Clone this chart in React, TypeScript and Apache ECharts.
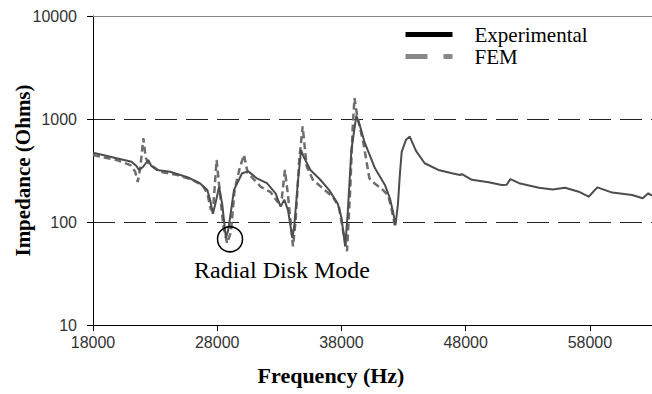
import React, { useEffect, useRef } from "react";
import * as echarts from "echarts";

const expFreq = [
  18000, 18800, 19900, 21100, 21500, 21700, 22000, 22450, 22700, 23150, 24200, 25600, 26600, 27200,
  27450, 27650, 27850, 28150, 28400, 28700, 28900, 29350, 30000, 30500, 31200, 32000, 32700, 33100,
  33400, 33700, 34050, 34200, 34500, 34750, 35000, 35500, 36300, 37000, 37700, 38000, 38300, 38500,
  38800, 39200, 39500, 39850, 40700, 41500, 41900, 42150, 42350, 42550, 42700, 42850, 43200, 43500,
  44000, 44700, 45800, 46900, 47550, 47700, 48500, 49850, 50900, 51300, 51600, 52300, 53900, 55000,
  56000, 57100, 57900, 58600, 59800, 61400, 62250, 62700, 63000,
];
const expImp = [
  470, 447, 415, 385, 350, 320, 340, 400, 350, 320, 308, 272, 238, 205,
  160, 120, 150, 220, 150, 70, 85, 205, 297, 310, 265, 238, 190, 141,
  165, 130, 70, 90, 250, 500, 420, 320, 257, 205, 151, 110, 58, 120,
  500, 1080, 850, 600, 332, 229, 170, 126, 93, 150, 286, 480, 630, 675,
  490, 372, 320, 297, 286, 292, 257, 243, 229, 230, 261, 238, 215, 207,
  215, 197, 176, 217, 193, 183, 170, 190, 180,
];

const femFreq = [
  18000, 19000, 19900, 21000, 21400, 21600, 21800, 22050, 22250, 22450, 23400, 24800, 25900, 26800,
  27200, 27500, 27700, 27950, 28200, 28500, 28800, 29100, 29400, 29800, 30150, 30450, 31500, 32300,
  32900, 33200, 33450, 33700, 34100, 34300, 34600, 34880, 35200, 35700, 36500, 37300, 37800, 38150,
  38450, 38700, 38900, 39050, 39250, 39750, 40250, 40700, 41200, 41750, 42000, 42300,
];
const femImp = [
  447, 420, 400, 357, 308, 245, 330, 650, 420, 372, 308, 286, 259, 229,
  190, 130, 150, 400, 200, 90, 62, 80, 205, 330, 450, 300, 220, 195,
  155, 170, 320, 180, 58, 100, 400, 850, 346, 257, 212, 176, 140, 80,
  52, 200, 800, 1600, 1100, 600, 265, 235, 212, 183, 140, 93,
];

const xTicks = [18000, 28000, 38000, 48000, 58000];
const annotation = { freq: 29030, imp: 68, text: "Radial Disk Mode" };

export default function App() {
  const ref = useRef<HTMLDivElement>(null);
  useEffect(() => {
    if (!ref.current) return;
    const chart = echarts.init(ref.current, null, { renderer: "svg" });
    const serif = "'Liberation Serif', 'Times New Roman', serif";
    const sans = "'Liberation Sans', Arial, sans-serif";
    const tickLabel = { fontFamily: sans, fontSize: 16, color: "#333" };
    const hiddenSymbol = { color: "transparent", borderWidth: 0, opacity: 0 };
    chart.setOption({
      animation: false,
      backgroundColor: "#fff",
      grid: { left: 93, right: 0, top: 16, bottom: 69, containLabel: false, outerBoundsMode: "none" },
      legend: {
        orient: "vertical",
        left: 398,
        top: 19,
        itemWidth: 47,
        itemHeight: 14,
        itemGap: 1,
        textStyle: { fontFamily: serif, fontSize: 21, lineHeight: 20, color: "#000", padding: [0, 0, 0, 17] },
        data: [
          { name: "Experimental", lineStyle: { color: "#000", width: 5, type: "solid" }, itemStyle: hiddenSymbol },
          { name: "FEM", lineStyle: { color: "#888", width: 5, type: [22, 16] }, itemStyle: hiddenSymbol },
        ],
      },
      xAxis: [
        {
          type: "value",
          min: 18000,
          max: 63000,
          position: "bottom",
          axisLine: { show: true, lineStyle: { color: "#000", width: 1 } },
          axisTick: { show: true, inside: false, length: 6, customValues: xTicks, lineStyle: { color: "#000" } },
          axisLabel: { ...tickLabel, margin: 9, customValues: xTicks, formatter: (v: number) => String(v) },
          splitLine: { show: false },
          name: "Frequency (Hz)",
          nameLocation: "middle",
          nameGap: 39,
          nameMoveOverlap: false,
          nameTextStyle: {
            fontFamily: serif,
            fontSize: 22,
            fontWeight: "bold",
            color: "#000",
            padding: [0, 83, 0, 0],
          },
        },
        {
          type: "value",
          min: 18000,
          max: 63000,
          position: "top",
          axisLine: { show: true, lineStyle: { color: "#888", width: 1 } },
          axisTick: { show: false },
          axisLabel: { show: false },
          splitLine: { show: false },
        },
      ],
      yAxis: {
        type: "log",
        logBase: 10,
        min: 10,
        max: 10000,
        axisLine: { show: true, lineStyle: { color: "#000", width: 1 } },
        axisTick: { show: true, inside: false, length: 6, lineStyle: { color: "#000" } },
        axisLabel: { ...tickLabel, margin: 16, formatter: (v: number) => String(Math.round(v)) },
        minorTick: { show: false },
        splitLine: { show: true, lineStyle: { color: "#222", width: 1.2, type: [22, 9] } },
        name: "Impedance (Ohms)",
        nameLocation: "middle",
        nameGap: 60,
        nameMoveOverlap: false,
        nameTextStyle: { fontFamily: serif, fontSize: 21, fontWeight: "bold", color: "#000" },
      },
      series: [
        {
          name: "FEM",
          type: "line",
          xAxisIndex: 0,
          symbol: "none",
          data: femFreq.map((f, i) => [f, femImp[i]]),
          lineStyle: { color: "#6e6e6e", width: 2.5, type: [7, 4] },
          itemStyle: { color: "#888" },
          z: 2,
          markPoint: {
            silent: true,
            data: [
              {
                coord: [annotation.freq, annotation.imp],
                symbol: "circle",
                symbolSize: 25,
                itemStyle: { color: "transparent", borderColor: "#000", borderWidth: 1.5 },
                label: {
                  show: true,
                  formatter: annotation.text,
                  position: "bottom",
                  distance: 5,
                  offset: [52, 0],
                  fontFamily: serif,
                  fontSize: 24,
                  color: "#000",
                },
              },
            ],
          },
        },
        {
          name: "Experimental",
          type: "line",
          xAxisIndex: 0,
          symbol: "none",
          data: expFreq.map((f, i) => [f, expImp[i]]),
          lineStyle: { color: "#4d4d4d", width: 2 },
          itemStyle: { color: "#000" },
          z: 3,
        },
      ],
    });
    return () => chart.dispose();
  }, []);
  return <div ref={ref} style={{ width: 652, height: 394, position: "absolute", left: 0, top: 0 }} />;
}
